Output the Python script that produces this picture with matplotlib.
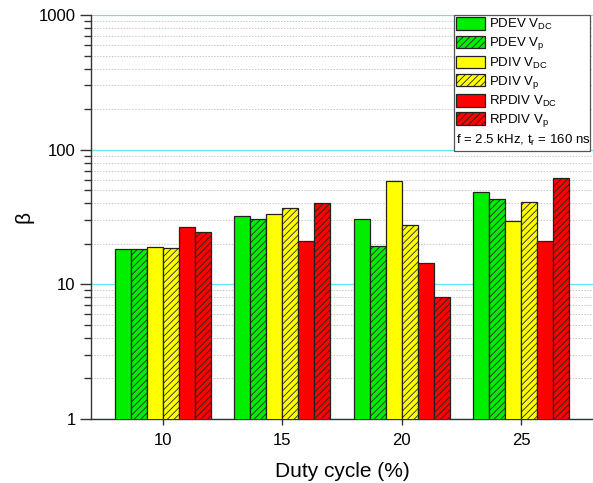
import matplotlib
matplotlib.use("Agg")
import matplotlib.pyplot as plt
import numpy as np
from matplotlib.patches import Patch, Rectangle
from matplotlib.ticker import FixedLocator, FuncFormatter, NullFormatter

plt.rcParams['font.family'] = ['Liberation Sans', 'DejaVu Sans']
plt.rcParams['mathtext.default'] = 'regular'
plt.rcParams['hatch.linewidth'] = 0.6

duty = [10, 15, 20, 25]
series_labels = ['PDEV $V_{DC}$', 'PDEV $V_p$', 'PDIV $V_{DC}$', 'PDIV $V_p$',
                 'RPDIV $V_{DC}$', 'RPDIV $V_p$']
pdev_vdc = [18.2, 32.1, 30.8, 48.4]
pdev_vp = [18.2, 30.7, 19.4, 43.2]
pdiv_vdc = [19.0, 33.3, 58.8, 29.5]
pdiv_vp = [18.5, 36.9, 27.7, 41.0]
rpdiv_vdc = [26.5, 21.1, 14.3, 21.0]
rpdiv_vp = [24.6, 39.9, 8.05, 61.1]
series = [pdev_vdc, pdev_vp, pdiv_vdc, pdiv_vp, rpdiv_vdc, rpdiv_vp]
colors = ['#00ee00', '#00ee00', '#ffff00', '#ffff00', '#ff0000', '#ff0000']
hatches = [None, '/////', None, '/////', None, '/////']

fig = plt.figure(figsize=(5.93, 4.83), dpi=100)
ax = fig.add_axes([91/593, 64/483, 1 - 91/593, (419-15)/483])

n = len(series)
width = 4.0 / n
x = np.array(duty, dtype=float)
for i, (vals, c, h) in enumerate(zip(series, colors, hatches)):
    offs = (i - (n - 1) / 2) * width
    ax.bar(x + offs, vals, width=width, bottom=0, color=c, edgecolor='#222222',
           linewidth=0.9, hatch=h, zorder=3)

ax.set_yscale('log')
ax.set_ylim(1, 1000)
ax.set_xlim(7, 28)
ax.set_xticks(duty)
ax.set_xticklabels([str(d) for d in duty])
ax.yaxis.set_major_locator(FixedLocator([1, 10, 100, 1000]))
ax.yaxis.set_major_formatter(FuncFormatter(lambda v, p: f"{v:g}"))
minors = [m * 10**e for e in range(0, 3) for m in range(2, 10)]
ax.yaxis.set_minor_locator(FixedLocator(minors))
ax.yaxis.set_minor_formatter(NullFormatter())

ax.grid(True, which='major', axis='y', color='#66e4f0', linewidth=0.9, linestyle='-', zorder=0)
ax.grid(True, which='minor', axis='y', color='#c8c8c8', linewidth=0.7, linestyle=(0, (1.5, 1.5)), zorder=0)
ax.set_axisbelow(True)

for s in ['top', 'right']:
    ax.spines[s].set_visible(False)
for s in ['left', 'bottom']:
    ax.spines[s].set_color('#333333')
    ax.spines[s].set_linewidth(1.0)

ax.tick_params(axis='y', which='major', length=8, width=1, color='#333333', labelsize=12, pad=3)
ax.tick_params(axis='y', which='minor', length=5, width=1, color='#333333')
ax.tick_params(axis='x', which='major', length=8, width=1, color='#333333', labelsize=12,
               direction='inout', pad=6)

ax.set_xlabel('Duty cycle (%)', fontsize=15, labelpad=10)
ax.set_ylabel('β', fontsize=15, labelpad=4)

handles = [Patch(facecolor=c, edgecolor='#222222', hatch=h, linewidth=0.9)
           for c, h in zip(colors, hatches)]

# legend frame
x0, y0, x1, y1 = 454/593, 1 - 151/483, 590/593, 1 - 15/483
fig.patches.append(Rectangle((x0, y0), x1 - x0, y1 - y0, transform=fig.transFigure,
                             facecolor='white', edgecolor='#555555', linewidth=0.9, zorder=5))
leg = fig.legend(handles, series_labels, loc='upper left',
                 bbox_to_anchor=(455/593, 1 - 16/483), frameon=False,
                 fontsize=9.5, handlelength=2.15, handleheight=1.1,
                 handletextpad=0.35, labelspacing=0.23, borderpad=0.1, borderaxespad=0)
leg.set_zorder(6)
fig.text(456/593, 1 - 140/483, 'f = 2.5 kHz, t$_r$ = 160 ns', fontsize=9.5,
         va='center', ha='left', zorder=7)

fig.savefig('out.png', dpi=100)
